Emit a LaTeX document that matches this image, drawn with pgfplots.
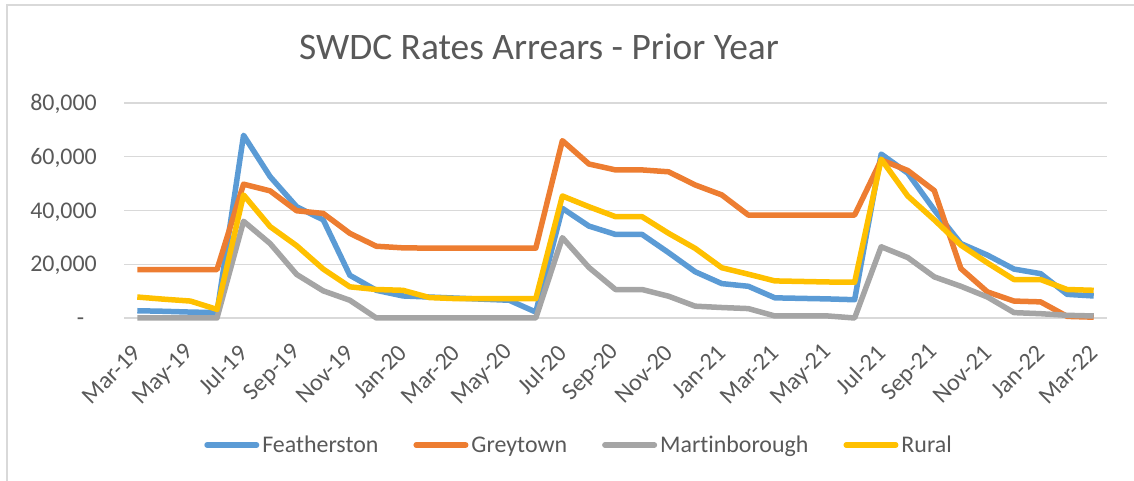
\documentclass[border=0pt]{standalone}
\usepackage{pgfplots}
\pgfplotsset{compat=1.18}
\usepackage{pgfplotstable}
\usepackage{fontspec}
\setmainfont{Carlito}[Ligatures=CommonOff]
\definecolor{cF}{HTML}{5B9BD5}
\definecolor{cG}{HTML}{ED7D31}
\definecolor{cM}{HTML}{A5A5A5}
\definecolor{cR}{HTML}{FFC000}
\definecolor{txt}{HTML}{595959}
\definecolor{gridc}{HTML}{D9D9D9}

\pgfplotstableread{
i F G M R
0 2700 18000 0 7800
1 2500 18000 0 7000
2 2200 18000 0 6300
3 2000 18000 0 3200
4 68000 49800 36000 45800
5 52600 47300 27700 34000
6 41400 39900 16200 26900
7 36500 38900 10100 18200
8 15900 31500 6600 11600
9 10300 26700 0 10600
10 8200 26100 0 10300
11 7800 26000 0 7600
12 7400 26000 0 7200
13 7000 26000 0 7200
14 6600 26000 0 7200
15 2200 26000 0 7200
16 40800 66000 29900 45400
17 34200 57300 18800 41400
18 31100 55100 10600 37700
19 31100 55100 10600 37700
20 24300 54400 8100 31500
21 17200 49500 4400 25900
22 12800 45800 3900 18700
23 11800 38300 3500 16300
24 7500 38300 750 13800
25 7300 38300 750 13600
26 7100 38300 750 13400
27 6800 38300 0 13300
28 61000 58800 26500 59100
29 53900 54900 22500 45400
30 40200 47400 15300 36500
31 27700 18400 11800 27100
32 23400 9700 7800 20500
33 18200 6300 2000 14300
34 16500 6000 1600 14300
35 8800 600 1000 10600
36 8200 300 750 10300
}\datatable

\begin{document}
\begin{tikzpicture}
\useasboundingbox (0,0) rectangle (1134pt,481pt);
\draw[gridc, line width=1.5pt] (7pt,0pt) -- (7pt,476pt) -- (1134pt,476pt);
\node[anchor=base, text=txt, inner sep=0pt, font=\fontsize{37.4}{44}\selectfont] at (539pt,421pt) {SWDC Rates Arrears - Prior Year};
\begin{axis}[
  at={(124pt,163pt)}, anchor=south west,
  scale only axis, width=983pt, height=215pt,
  xmin=-0.5, xmax=36.5, ymin=0, ymax=80000,
  clip=false,
  scaled y ticks=false,
  axis line style={draw=none},
  tick style={draw=none},
  ymajorgrids, major grid style={gridc, line width=1.4pt},
  ytick={0,20000,40000,60000,80000},
  yticklabels={{-\kern12.5pt},{20,000},{40,000},{60,000},{80,000}},
  xtick={0,2,...,36},
  xticklabels={Mar-19,May-19,Jul-19,Sep-19,Nov-19,Jan-20,Mar-20,May-20,Jul-20,Sep-20,Nov-20,Jan-21,Mar-21,May-21,Jul-21,Sep-21,Nov-21,Jan-22,Mar-22},
  yticklabel style={anchor=east, inner sep=0pt, xshift=-27pt, text=txt, text height=15.1pt, text depth=0pt, font=\fontsize{23.9}{28}\selectfont},
  xticklabel style={yshift=-31pt, rotate=45, anchor=east, inner sep=0pt, text=txt, font=\fontsize{24.2}{28}\selectfont},
  legend columns=4,
  legend image code/.code={\draw[#1, line cap=round] (2.75pt,0pt) -- (52.25pt,0pt);},
  legend style={at={(0.4619,-0.5907)}, anchor=center, draw=none, fill=none,
    text=txt, font=\fontsize{23.9}{28}\selectfont, inner sep=0pt,
    nodes={inner sep=0pt},
    /tikz/every odd column/.append style={column sep=3pt},
    /tikz/every even column/.append style={column sep=35pt}},
  every axis plot/.append style={line width=5.5pt, line join=round},
]
\addplot[cF] table[x=i,y=F] {\datatable};
\addplot[cG] table[x=i,y=G] {\datatable};
\addplot[cM] table[x=i,y=M] {\datatable};
\addplot[cR] table[x=i,y=R] {\datatable};
\legend{Featherston,Greytown,Mart\kern0pt inborough,Rural}
\end{axis}
\end{tikzpicture}
\end{document}
